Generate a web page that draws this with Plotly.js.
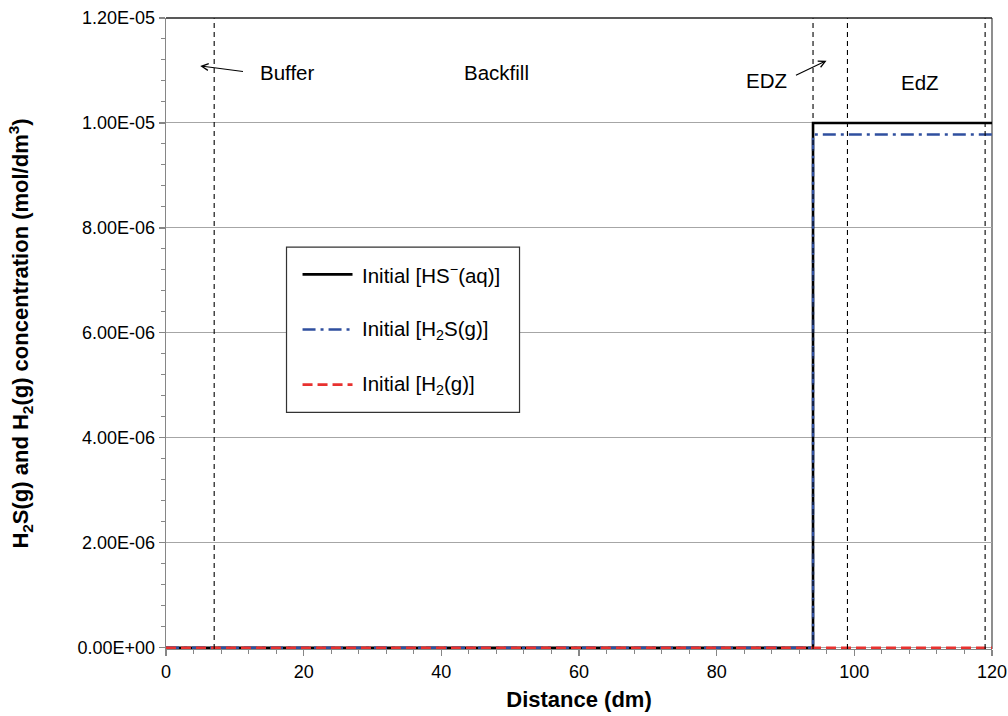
<!DOCTYPE html>
<html>
<head>
<meta charset="utf-8">
<script src="https://cdn.plot.ly/plotly-3.0.1.min.js"></script>
<style>
  html, body { margin: 0; padding: 0; background: #fff; }
  #chart { width: 1008px; height: 716px; }
</style>
</head>
<body>
<div id="chart"></div>
<script>
// Initial concentration profiles along the distance from the canister
const hsX = [0, 94, 94, 120];
const hsY = [0, 0, 1.0e-5, 1.0e-5];
const h2sX = [0, 94, 94, 120];
const h2sY = [0, 0, 9.78e-6, 9.78e-6];
const h2X = [0, 120];
const h2Y = [0, 0];

// Zone boundaries (dm)
const boundaries = [7, 94, 99, 119];

// Y tick values and their labels
const yTickVals = [0, 2e-6, 4e-6, 6e-6, 8e-6, 1.0e-5, 1.2e-5];
const yTickText = ['0.00E+00', '2.00E-06', '4.00E-06', '6.00E-06', '8.00E-06', '1.00E-05', '1.20E-05'];

const seriesNames = [
  'Initial [HS<sup>\u2212</sup>(aq)]',
  'Initial [H<sub>2</sub>S(g)]',
  'Initial [H<sub>2</sub>(g)]'
];

const FONT = 'Liberation Sans, Arial, Helvetica, sans-serif';

const styles = [
  { color: '#000000', width: 2.6, dash: 'solid' },
  { color: '#2f4f9f', width: 2.4, dash: '13px,5px,3px,5px' },
  { color: '#e8312f', width: 2.6, dash: '10px,5px' }
];

const traces = [
  { x: hsX, y: hsY, name: seriesNames[0], mode: 'lines', line: styles[0], showlegend: false, hoverinfo: 'skip' },
  { x: h2sX, y: h2sY, name: seriesNames[1], mode: 'lines', line: styles[1], showlegend: false, hoverinfo: 'skip' },
  { x: h2X, y: h2Y, name: seriesNames[2], mode: 'lines', line: styles[2], showlegend: false, hoverinfo: 'skip' }
];

const shapes = [];
// dashed zone boundaries
boundaries.forEach(b => {
  shapes.push({
    type: 'line', xref: 'x', yref: 'paper', x0: b, x1: b, y0: 0, y1: 1,
    line: { color: '#000', width: 1.1, dash: '5px,4px' }, layer: 'above'
  });
});
// top and right frame
shapes.push({ type: 'line', xref: 'paper', yref: 'paper', x0: 0, x1: 1, y0: 1, y1: 1,
  line: { color: '#222', width: 1.4 }, layer: 'above' });
shapes.push({ type: 'line', xref: 'paper', yref: 'paper', x0: 1, x1: 1, y0: 0, y1: 1,
  line: { color: '#444', width: 1.2 }, layer: 'below' });

// legend box
const legBox = { x0: 0.1459, x1: 0.428, y0: 0.375, y1: 0.637 };
const legRows = [0.5937, 0.5063, 0.419];
const legLine = { x0: 0.1653, x1: 0.2258 };
const legTextX = 0.2343;
shapes.push({ type: 'rect', xref: 'paper', yref: 'paper',
  x0: legBox.x0, x1: legBox.x1, y0: legBox.y0, y1: legBox.y1,
  fillcolor: '#fff', line: { color: '#333', width: 1.2 }, layer: 'above' });
legRows.forEach((ry, i) => {
  shapes.push({ type: 'line', xref: 'paper', yref: 'paper',
    x0: legLine.x0, x1: legLine.x1, y0: ry, y1: ry,
    line: { color: styles[i].color, width: styles[i].width, dash: styles[i].dash }, layer: 'above' });
});

const annFont = { family: FONT, size: 20.5, color: '#000' };
const legFont = { family: FONT, size: 20.5, color: '#000' };
const annotations = [
  { text: 'Buffer', x: 17.6, y: 10.97e-6, showarrow: false, font: annFont },
  { text: 'Backfill', x: 48.0, y: 10.97e-6, showarrow: false, font: annFont },
  { text: 'EDZ', x: 87.3, y: 10.8e-6, showarrow: false, font: annFont },
  { text: 'EdZ', x: 109.5, y: 10.78e-6, showarrow: false, font: annFont },
  // pointer arrows
  { text: '', x: 4.97, y: 11.086e-6, ax: 11.4, ay: 10.977e-6, axref: 'x', ayref: 'y',
    showarrow: true, arrowhead: 5, arrowsize: 1.2, arrowwidth: 1.1, arrowcolor: '#000', standoff: 0, startstandoff: 0 },
  { text: '', x: 95.96, y: 11.187e-6, ax: 91.3, ay: 10.895e-6, axref: 'x', ayref: 'y',
    showarrow: true, arrowhead: 5, arrowsize: 1.2, arrowwidth: 1.1, arrowcolor: '#000', standoff: 0, startstandoff: 0 }
];
legRows.forEach((ry, i) => {
  annotations.push({ text: seriesNames[i], xref: 'paper', yref: 'paper', x: legTextX, y: ry,
    xanchor: 'left', yanchor: 'middle', showarrow: false, font: legFont });
});

const layout = {
  width: 1008, height: 716,
  margin: { l: 166, r: 16, t: 18, b: 67 },
  paper_bgcolor: '#fff', plot_bgcolor: '#fff',
  font: { family: FONT, size: 18, color: '#000' },
  showlegend: false,
  xaxis: {
    range: [0, 120], dtick: 20, tick0: 0,
    showgrid: false, zeroline: false,
    showline: true, linecolor: '#868686', linewidth: 1.3, layer: 'below traces',
    ticks: 'outside', ticklen: 6, tickwidth: 1.2, tickcolor: '#868686',
    minor: { dtick: 4, ticks: 'outside', ticklen: 4, tickwidth: 1, tickcolor: '#868686', showgrid: false },
    tickfont: { family: FONT, size: 18, color: '#000' },
    title: { text: 'Distance (dm)', font: { family: FONT, size: 22, color: '#000', weight: 'bold' }, standoff: 10 },
    automargin: false
  },
  yaxis: {
    // a hair below zero so the zero-level lines are not half clipped
    range: [-0.025e-6, 1.2e-5],
    tickmode: 'array', tickvals: yTickVals, ticktext: yTickText,
    showgrid: true, gridcolor: '#a6a6a6', gridwidth: 1,
    zeroline: false,
    showline: true, linecolor: '#868686', linewidth: 1.3, layer: 'below traces',
    ticks: 'outside', ticklen: 6, tickwidth: 1.2, tickcolor: '#868686',
    minor: { dtick: 4e-7, tick0: 0, ticks: 'outside', ticklen: 4, tickwidth: 1, tickcolor: '#868686', showgrid: false },
    tickfont: { family: FONT, size: 18, color: '#000' },
    title: { text: 'H<sub>2</sub>S(g) and H<sub>2</sub>(g) concentration (mol/dm<sup>3</sup>)',
      font: { family: FONT, size: 22, color: '#000', weight: 'bold' }, standoff: 42 },
    automargin: false
  },
  shapes: shapes,
  annotations: annotations
};

Plotly.newPlot('chart', traces, layout, { displayModeBar: false, staticPlot: true });
</script>
</body>
</html>
